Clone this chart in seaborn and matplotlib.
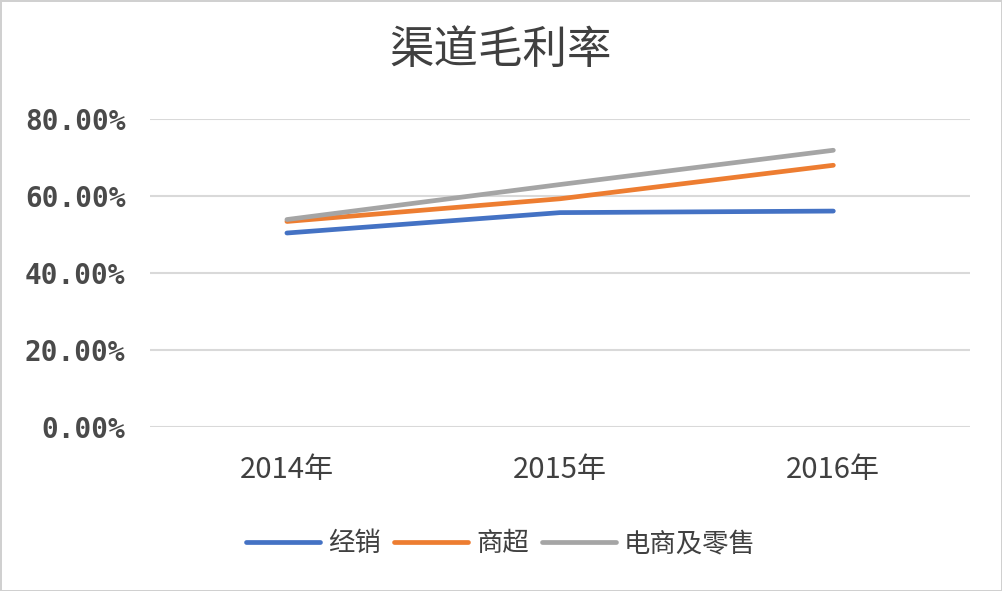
import pandas as pd
import matplotlib.pyplot as plt
import seaborn as sns

# 数据
years = ["2014年", "2015年", "2016年"]
jingxiao = [50.4, 55.7, 56.1]
shangchao = [53.4, 59.3, 68.0]
dianshang = [53.9, 63.0, 71.9]
series_names = ["经销", "商超", "电商及零售"]
colors = ["#4472C4", "#ED7D31", "#A5A5A5"]

df = pd.DataFrame({
    "year": years * 3,
    "value": jingxiao + shangchao + dianshang,
    "series": [n for n in series_names for _ in years],
})

sns.set_style("white")
plt.rcParams["font.family"] = ["Noto Sans CJK SC", "DejaVu Sans"]

fig = plt.figure(figsize=(10.02, 5.91), dpi=100)
fig.patch.set_edgecolor("#d0d0d0")
fig.patch.set_linewidth(2)
ax = fig.add_axes([0.15, 0.2775, 0.818, 0.521])

sns.lineplot(data=df, x="year", y="value", hue="series", palette=colors,
             linewidth=3.4, sort=False, ax=ax, legend=False)

ax.set_ylim(0, 80)
ax.set_xlim(-0.5, 2.5)
ax.set_yticks([0, 20, 40, 60, 80])
ax.set_yticklabels([f"{v:.2f}%" for v in [0, 20, 40, 60, 80]],
                   family="DejaVu Sans Mono", fontsize=20, fontweight="bold", color="#4a4a4a")
ax.tick_params(axis="y", length=0, pad=18)
ax.tick_params(axis="x", length=0, pad=20, labelsize=21, labelcolor="#404040")
ax.grid(axis="y", color="#d9d9d9", linewidth=1.5)
ax.set_axisbelow(True)
for s in ax.spines.values():
    s.set_visible(False)
ax.set_xlabel("")
ax.set_ylabel("")

fig.text(0.5, 0.915, "渠道毛利率", ha="center", va="center", fontsize=32,
         fontweight="medium", color="#404040")

handles = [plt.Line2D([], [], color=c, linewidth=3.4) for c in colors]
fig.legend(handles, series_names, loc="center", bbox_to_anchor=(0.5, 0.08), ncol=3,
           frameon=False, fontsize=19, handlelength=2.8, columnspacing=0.5, handletextpad=0.3,
           labelcolor="#404040")

fig.savefig("out.png", dpi=100)
